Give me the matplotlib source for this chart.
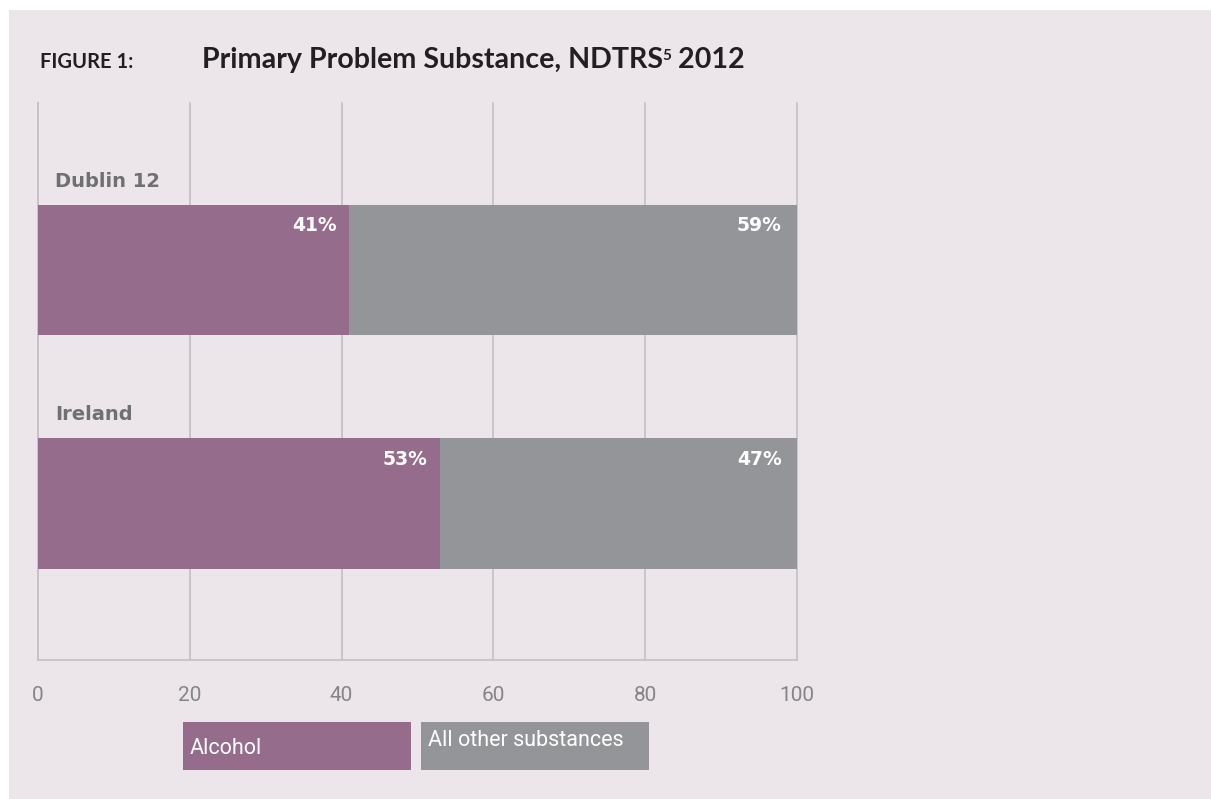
import numpy as np
from matplotlib import pyplot as plt
from matplotlib.patches import Rectangle

# data
regions = ['Dublin 12', 'Ireland']
alcohol = [41, 53]
other = [59, 47]
series_names = ['Alcohol', 'All other substances']
xticks = [0, 20, 40, 60, 80, 100]

purple = '#956c8b'
grey = '#939598'
bg = '#ece6ea'
grid_col = '#c6c2c6'
label_col = '#6f7072'

W, H = 1211, 799
fig = plt.figure(figsize=(W / 100, H / 100), dpi=100, facecolor='white')

# background panel
fig.patches.append(Rectangle((9 / W, 0), 1, 1 - 10 / H, transform=fig.transFigure,
                             facecolor=bg, edgecolor='none', zorder=-10))

ax = fig.add_axes([38 / W, (H - 660) / H, 759 / W, 557 / H])
ax.set_facecolor('none')

y = np.arange(len(regions))
bh = 0.557
ax.barh(y, alcohol, height=bh, color=purple, zorder=3)
ax.barh(y, other, left=alcohol, height=bh, color=grey, zorder=3)

ax.set_xlim(0, 100)
ax.set_ylim(1.67, -0.715)

for i, name in enumerate(regions):
    ax.text(2.3, y[i] - 0.38, name, va='center', ha='left', fontsize=14,
            fontweight='heavy', color=label_col, family='DejaVu Sans')
    a = alcohol[i]
    o = other[i]
    ax.annotate(f'{a}%', xy=(a, y[i] - bh / 2), xytext=(-9, -15), textcoords='offset points',
                ha='right', va='center', color='white', fontsize=13.5, fontweight='bold', zorder=5)
    ax.annotate(f'{o}%', xy=(a + o, y[i] - bh / 2), xytext=(-11, -15), textcoords='offset points',
                ha='right', va='center', color='white', fontsize=13.5, fontweight='bold', zorder=5)

ax.set_xticks(xticks)
ax.set_xticklabels([str(t) for t in xticks], family='Roboto', fontweight='normal',
                   fontsize=15, color='#858587')
ax.set_yticks([])
ax.tick_params(axis='x', length=0, pad=19)
ax.xaxis.grid(True, color=grid_col, linewidth=1.3, clip_on=False)
ax.set_axisbelow(True)
for s in ['top', 'right']:
    ax.spines[s].set_visible(False)
for s in ['left', 'bottom']:
    ax.spines[s].set_color(grid_col)
    ax.spines[s].set_linewidth(1.3)

# title
fig.text(40 / W, 1 - 68 / H, 'FIGURE 1:', family='Lato', fontweight='bold', fontsize=14.5,
         color='#231f20', va='baseline')
t1 = fig.text(202 / W, 1 - 68 / H, 'Primary Problem Substance, NDTRS', family='Lato',
              fontweight='bold', fontsize=20.6, color='#231f20', va='baseline')
t2 = ax.annotate('5', xy=(1, 1), xycoords=t1, xytext=(-0.5, -1.5), textcoords='offset points',
                 family='Lato', fontweight='bold', fontsize=11, color='#231f20', va='top')
ax.annotate(' 2012', xy=(1, 0), xycoords=(t2, t1), family='Lato', fontweight='bold',
            fontsize=20.6, color='#231f20', va='bottom')

# legend boxes
boxes = [(183, 411, 722, 770, purple, 3), (421, 649, 722, 770, grey, -6)]
for (x0, x1, y0, y1, c, dy), name in zip(boxes, series_names):
    fig.patches.append(Rectangle((x0 / W, 1 - y1 / H), (x1 - x0) / W, (y1 - y0) / H,
                                 transform=fig.transFigure, facecolor=c, edgecolor='none'))
    fig.text((x0 + 7) / W, 1 - ((y0 + y1) / 2 + dy) / H, name, family='Roboto',
             fontsize=15.5, color='white', va='center', ha='left')

plt.savefig('out.png', dpi=100, facecolor='white')
